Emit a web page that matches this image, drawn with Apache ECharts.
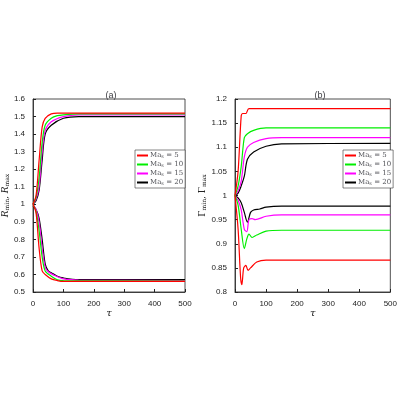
<!DOCTYPE html>
<html><head><meta charset="utf-8">
<script src="https://cdn.jsdelivr.net/npm/echarts@6/dist/echarts.min.js"></script>
</head><body style="margin:0">
<div id="c" style="width:400px;height:400px"></div>
<script>
var names = ['Ma5', 'Ma10', 'Ma15', 'Ma20'];
var labels = ['5', '10', '15', '20'];
var colors = ['#ff0000', '#00ee00', '#ff00ff', '#000000'];
// panel (a): R_max and R_min
var rMax = [
  [[0,1],[10,1.05],[20,1.25],[30,1.44],[40,1.49],[60,1.515],[80,1.52],[100,1.52],[500,1.52]],
  [[0,1],[10,1.04],[20,1.15],[30,1.35],[40,1.45],[60,1.49],[80,1.505],[100,1.51],[150,1.515],[500,1.515]],
  [[0,1],[10,1.03],[20,1.1],[30,1.3],[40,1.42],[60,1.47],[100,1.5],[150,1.51],[500,1.51]],
  [[0,1],[10,1.02],[20,1.08],[30,1.25],[40,1.4],[60,1.45],[100,1.49],[150,1.5],[500,1.5]]
];
var rMin = [
  [[0,1],[10,0.95],[20,0.75],[30,0.62],[40,0.6],[60,0.575],[80,0.565],[100,0.56],[500,0.56]],
  [[0,1],[10,0.96],[20,0.85],[30,0.7],[40,0.62],[60,0.59],[80,0.57],[100,0.565],[500,0.562]],
  [[0,1],[10,0.97],[20,0.9],[30,0.75],[40,0.64],[50,0.615],[70,0.595],[100,0.575],[150,0.568],[500,0.565]],
  [[0,0.99],[10,0.97],[20,0.92],[30,0.8],[40,0.66],[50,0.62],[60,0.61],[80,0.59],[100,0.58],[150,0.57],[500,0.57]]
];
// panel (b): Gamma_max and Gamma_min
var gMax = [
  [[0,1],[10,1.05],[20,1.165],[25,1.17],[35,1.17],[45,1.18],[500,1.18]],
  [[0,1],[10,1.02],[20,1.06],[30,1.12],[40,1.128],[60,1.135],[100,1.14],[500,1.14]],
  [[0,1],[10,1.01],[20,1.03],[30,1.08],[40,1.1],[60,1.11],[100,1.118],[150,1.12],[500,1.12]],
  [[0,1],[10,1.005],[20,1.02],[30,1.04],[40,1.075],[60,1.09],[100,1.102],[150,1.107],[500,1.108]]
];
var gMin = [
  [[0,1],[10,0.93],[18,0.83],[22,0.815],[28,0.85],[35,0.855],[42,0.845],[50,0.85],[70,0.862],[100,0.866],[500,0.866]],
  [[0,1],[10,0.98],[20,0.93],[30,0.89],[38,0.91],[45,0.92],[55,0.913],[70,0.918],[100,0.926],[150,0.928],[500,0.928]],
  [[0,1],[10,0.99],[20,0.97],[30,0.93],[38,0.925],[45,0.95],[55,0.952],[65,0.95],[100,0.957],[150,0.96],[500,0.96]],
  [[0,1],[10,0.995],[20,0.985],[30,0.965],[40,0.945],[50,0.965],[60,0.97],[80,0.972],[100,0.976],[150,0.978],[500,0.978]]
];

var font = 'Liberation Sans';
var axisStyle = {
  axisLine: {show: true, lineStyle: {color: '#222', width: 0.8}},
  axisTick: {inside: true, length: 3, lineStyle: {color: '#222'}},
  axisLabel: {fontSize: 8, color: '#222', fontFamily: font},
  splitLine: {show: false}
};
function axisX(i) {
  return Object.assign({gridIndex: i, type: 'value', min: 0, max: 500, interval: 100,
    name: 'τ', nameLocation: 'middle', nameGap: 14,
    nameTextStyle: {fontStyle: 'italic', fontSize: 10, fontFamily: 'DejaVu Serif'}}, axisStyle);
}
function axisY(i, min, max, step, nm, gap) {
  return Object.assign({gridIndex: i, type: 'value', min: min, max: max, interval: step,
    name: nm, nameLocation: 'middle', nameGap: gap,
    nameTextStyle: {fontSize: 9, fontFamily: 'DejaVu Serif',
      rich: {i: {fontStyle: 'italic', fontSize: 9, fontFamily: 'DejaVu Serif'},
             s: {fontSize: 6, verticalAlign: 'bottom', fontFamily: 'DejaVu Serif'}}}}, axisStyle);
}
var series = [];
function add(sets, gi) {
  sets.forEach(function (d, k) {
    series.push({name: names[k], type: 'line', xAxisIndex: gi, yAxisIndex: gi, data: d,
      smooth: 0.3, showSymbol: false, lineStyle: {color: colors[k], width: 1.2},
      itemStyle: {color: colors[k]}, z: 10 - k});
  });
}
add(rMax, 0); add(rMin, 0); add(gMax, 1); add(gMin, 1);

function legend(left) {
  return {data: names, orient: 'vertical', left: left, top: 150, itemWidth: 11, itemHeight: 2,
    itemGap: 2, padding: [2, 2], backgroundColor: '#fff', borderColor: '#333', borderWidth: 0.6,
    icon: 'rect',
    formatter: function (n) { return '{b|Ma}{s|s}{b| = ' + labels[names.indexOf(n)] + '}'; },
    textStyle: {padding: [0, 0, 0, -3], rich: {b: {fontSize: 7, fontFamily: 'DejaVu Serif'},
      s: {fontSize: 5, verticalAlign: 'bottom', fontFamily: 'DejaVu Serif'}}}};
}

var chart = echarts.init(document.getElementById('c'));
chart.setOption({
  animation: false,
  backgroundColor: '#fff',
  title: [
    {text: '(a)', left: 106, top: 86, textAlign: 'center', textStyle: {fontSize: 9, fontWeight: 'normal', fontFamily: font}},
    {text: '(b)', left: 315, top: 86, textAlign: 'center', textStyle: {fontSize: 9, fontWeight: 'normal', fontFamily: font}}
  ],
  grid: [
    {left: 26, top: 99, width: 159, height: 193, show: true, borderColor: '#222', borderWidth: 0.8},
    {left: 235, top: 99, width: 159, height: 193, show: true, borderColor: '#222', borderWidth: 0.8}
  ],
  legend: [legend(135), legend(343)],
  xAxis: [axisX(0), axisX(1)],
  yAxis: [
    axisY(0, 0.5, 1.6, 0.1, '{i|R}{s|min}{i|, R}{s|max}', 16),
    axisY(1, 0.8, 1.2, 0.05, 'Γ{s|min}, Γ{s|max}', 22)
  ],
  series: series
});
</script>
</body></html>
